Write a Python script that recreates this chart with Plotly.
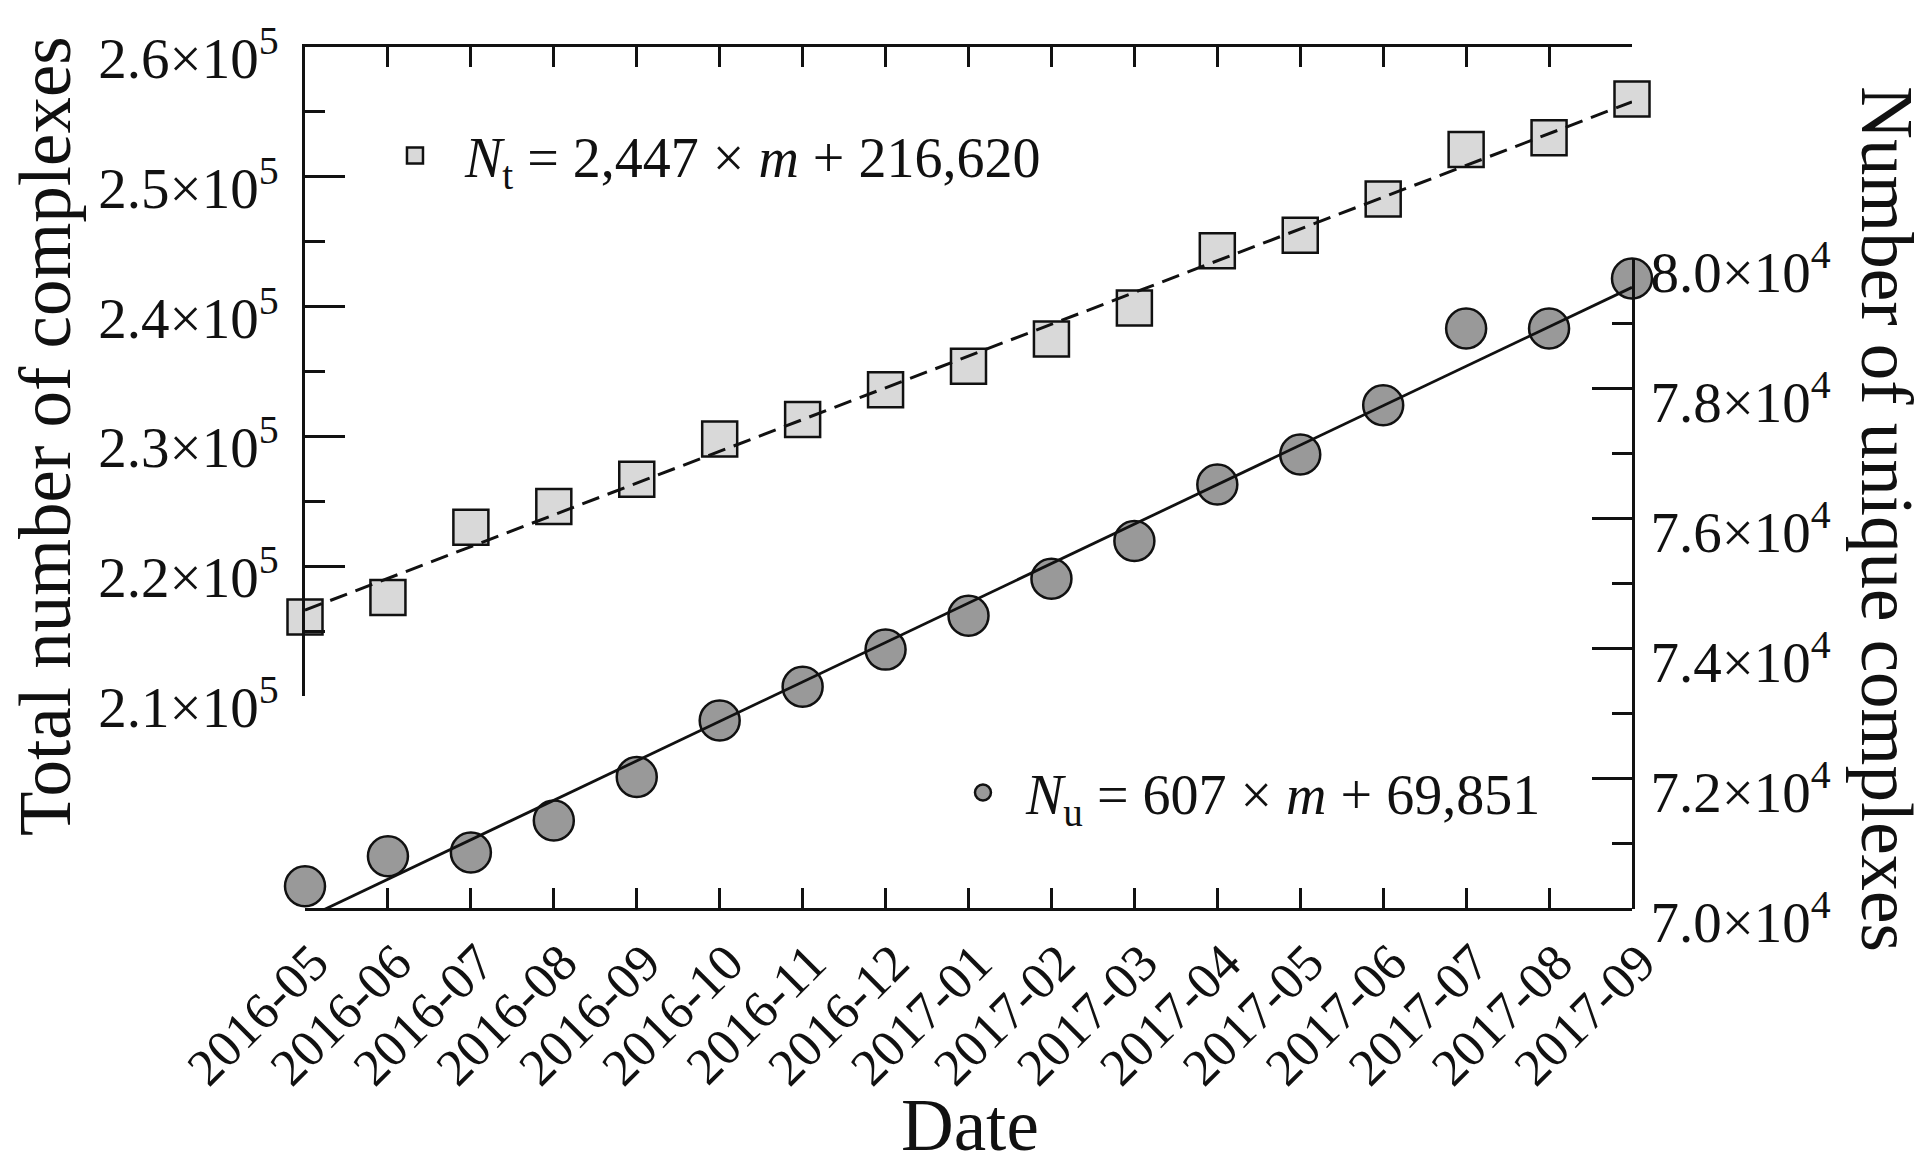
import plotly.graph_objects as go

# ---------------- data ----------------
months = ["2016-05", "2016-06", "2016-07", "2016-08", "2016-09", "2016-10",
          "2016-11", "2016-12", "2017-01", "2017-02", "2017-03", "2017-04",
          "2017-05", "2017-06", "2017-07", "2017-08", "2017-09"]

total_complexes = [216100, 217600, 223000, 224600, 226700, 229800, 231300,
                   233600, 235400, 237500, 239900, 244300, 245500, 248300,
                   252100, 253000, 256000]

unique_complexes = [70350, 70810, 70870, 71360, 72030, 72900, 73420, 73990,
                    74510, 75080, 75660, 76530, 76990, 77750, 78930, 78930,
                    79700]

# linear fits shown in the chart (value at first and last month)
fit_months = [months[0], months[-1]]
fit_total = [216620, 255772]
fit_unique = [69851, 79563]

left_tickvals = [210000, 220000, 230000, 240000, 250000, 260000]
left_ticktext = ["2.1×10<sup>5</sup>", "2.2×10<sup>5</sup>", "2.3×10<sup>5</sup>",
                 "2.4×10<sup>5</sup>", "2.5×10<sup>5</sup>", "2.6×10<sup>5</sup>"]
left_minor = [215000, 225000, 235000, 245000, 255000]

right_tickvals = [70000, 72000, 74000, 76000, 78000, 80000]
right_ticktext = ["7.0×10<sup>4</sup>", "7.2×10<sup>4</sup>", "7.4×10<sup>4</sup>",
                  "7.6×10<sup>4</sup>", "7.8×10<sup>4</sup>", "8.0×10<sup>4</sup>"]
right_minor = [71000, 73000, 75000, 77000, 79000]

# full-height extents of the two value scales (the drawn axis lines span only part)
left_full = [193600, 260000]
right_full = [70000, 83260]

# ---------------- styling ----------------
FONT = "Liberation Serif"
INK = "#111111"
YTICK_FONT = 57
XTICK_FONT = 52
TITLE_FONT = 73
LEGEND_FONT = 56

left_dom = [(left_tickvals[0] - left_full[0]) / (left_full[1] - left_full[0]), 1.0]
right_dom = [0.0, (right_tickvals[-1] - right_full[0]) / (right_full[1] - right_full[0])]

fig = go.Figure()

fig.add_trace(go.Scatter(
    x=months, y=total_complexes, mode="markers", xaxis="x", yaxis="y",
    cliponaxis=False,
    name="<i>N</i><sub>t</sub> = 2,447 × <i>m</i> + 216,620",
    legend="legend",
    marker=dict(symbol="square", size=35, color="#d9d9d9",
                line=dict(color=INK, width=2.5)),
))
fig.add_trace(go.Scatter(
    x=months, y=unique_complexes, mode="markers", xaxis="x", yaxis="y2",
    cliponaxis=False,
    name="<i>N</i><sub>u</sub> = 607 × <i>m</i> + 69,851",
    legend="legend2",
    marker=dict(symbol="circle", size=40, color="#999999",
                line=dict(color=INK, width=2.5)),
))
fig.add_trace(go.Scatter(
    x=fit_months, y=fit_total, mode="lines", xaxis="x2", yaxis="y",
    showlegend=False,
    line=dict(color=INK, width=3, dash="18px,9px"),
))
fig.add_trace(go.Scatter(
    x=fit_months, y=fit_unique, mode="lines", xaxis="x", yaxis="y2",
    showlegend=False,
    line=dict(color=INK, width=2.8),
))

axis_common = dict(showgrid=False, zeroline=False, showline=True,
                   linecolor=INK, linewidth=3, tickcolor=INK,
                   ticks="inside", tickwidth=2.5, automargin=False)

x_common = dict(type="category", categoryorder="array", categoryarray=months,
                range=[0, len(months) - 1], ticklen=20, **axis_common)

fig.update_layout(
    width=1927, height=1166,
    margin=dict(l=305, r=295, t=47, b=257, autoexpand=False),
    paper_bgcolor="white", plot_bgcolor="rgba(0,0,0,0)",
    font=dict(family=FONT, color=INK),
    xaxis=dict(
        anchor="free", position=0, side="bottom", tickangle=-45,
        ticklabelshift=8,
        tickfont=dict(family=FONT, size=XTICK_FONT, color=INK),
        **x_common,
    ),
    xaxis2=dict(
        anchor="y", side="top", showticklabels=False, overlaying="x",
        **x_common,
    ),
    yaxis=dict(
        domain=left_dom, range=[left_tickvals[0], left_tickvals[-1]],
        anchor="x", side="left",
        tickmode="array", tickvals=left_tickvals, ticktext=left_ticktext,
        ticklen=40, ticklabelstandoff=12, ticklabelshift=11,
        tickfont=dict(family=FONT, size=YTICK_FONT, color=INK),
        minor=dict(tickmode="array", tickvals=left_minor, ticks="inside",
                   ticklen=20, tickwidth=2.5, tickcolor=INK, showgrid=False),
        **axis_common,
    ),
    yaxis2=dict(
        domain=right_dom, range=[right_tickvals[0], right_tickvals[-1]],
        anchor="x", side="right",
        tickmode="array", tickvals=right_tickvals, ticktext=right_ticktext,
        ticklen=40, ticklabelstandoff=4, ticklabelshift=13,
        tickfont=dict(family=FONT, size=YTICK_FONT, color=INK),
        minor=dict(tickmode="array", tickvals=right_minor, ticks="inside",
                   ticklen=20, tickwidth=2.5, tickcolor=INK, showgrid=False),
        **axis_common,
    ),
    legend=dict(x=0.0452, y=0.874, xanchor="left", yanchor="middle",
                bgcolor="rgba(0,0,0,0)", borderwidth=0, itemsizing="trace",
                itemwidth=90,
                font=dict(family=FONT, size=LEGEND_FONT, color=INK)),
    legend2=dict(x=0.4785, y=0.135, xanchor="left", yanchor="middle",
                 bgcolor="rgba(0,0,0,0)", borderwidth=0, itemsizing="trace",
                 itemwidth=76,
                 font=dict(family=FONT, size=LEGEND_FONT, color=INK)),
    annotations=[
        dict(text="Total number of complexes", xref="paper", yref="paper",
             x=-0.196, y=0.5487, xanchor="center", yanchor="middle",
             textangle=-90, showarrow=False,
             font=dict(family=FONT, size=TITLE_FONT, color=INK)),
        dict(text="Number of unique complexes", xref="paper", yref="paper",
             x=1.192, y=0.4524, xanchor="center", yanchor="middle",
             textangle=90, showarrow=False,
             font=dict(family=FONT, size=TITLE_FONT, color=INK)),
        dict(text="Date", xref="paper", yref="paper",
             x=0.5011, y=-0.2506, xanchor="center", yanchor="middle",
             showarrow=False,
             font=dict(family=FONT, size=TITLE_FONT, color=INK)),
    ],
)

fig.write_html("out.html")
